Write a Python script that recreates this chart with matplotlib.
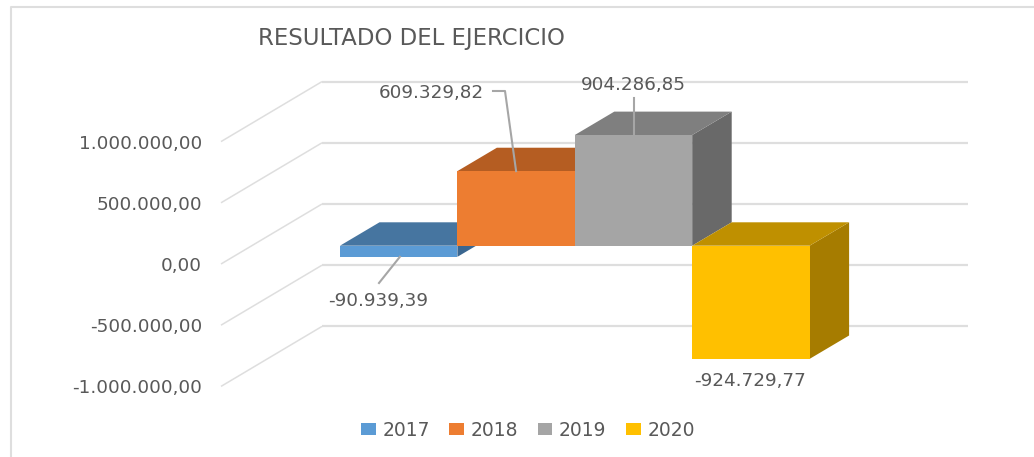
import matplotlib
matplotlib.use("Agg")
import matplotlib.pyplot as plt
from matplotlib.patches import Polygon, Patch

years = ["2017", "2018", "2019", "2020"]
values = [-90939.39, 609329.82, 904286.85, -924729.77]
value_labels = ["-90.939,39", "609.329,82", "904.286,85", "-924.729,77"]
front_colors = ["#5B9BD5", "#ED7D31", "#A5A5A5", "#FFC000"]
top_colors = ["#4675A0", "#B55D22", "#7F7F7F", "#BF9000"]
side_colors = ["#3A6690", "#A85520", "#696969", "#A67C00"]
axis_ticks = [1000000, 500000, 0, -500000, -1000000]
axis_labels = ["1.000.000,00", "500.000,00", "0,00", "-500.000,00", "-1.000.000,00"]
title = "RESULTADO DEL EJERCICIO"

W, H = 1034, 457
TXT = "#595959"
GRID = "#DEDEDE"
FS = 13.2

fig = plt.figure(figsize=(W / 100, H / 100), dpi=100, facecolor="white")
ax = fig.add_axes([0, 0, 1, 1])
ax.axis("off")

# pixel calibration: bar i spans i..i+1 on x, value 0 at the bars' front plane
PX_PER_CAT = 117.4
PX_PER_VAL = 122.4 / 1e6
X0, Y0 = 340.0, 245.7
ax.set_xlim((0 - X0) / PX_PER_CAT, (W - X0) / PX_PER_CAT)
ax.set_ylim((Y0 - H) / PX_PER_VAL, Y0 / PX_PER_VAL)


def px(x, y):
    return (x - X0) / PX_PER_CAT, (Y0 - y) / PX_PER_VAL


dx, dy = 39.5 / PX_PER_CAT, 23.4 / PX_PER_VAL  # bar depth
wall_x0 = px(221, 0)[0]
wall_x1 = px(322, 0)[0]
wall_x2 = px(968, 0)[0]
wall_front = px(0, 264.0)[1]
wall_back = px(0, 204.0)[1]
label_drop = 7.0 / PX_PER_VAL

for t, lab in zip(axis_ticks, axis_labels):
    ax.plot([wall_x0, wall_x1], [wall_front + t, wall_back + t], color=GRID, lw=1.1,
            solid_capstyle="butt", zorder=1)
    ax.plot([wall_x1, wall_x2], [wall_back + t, wall_back + t], color=GRID, lw=1.6,
            solid_capstyle="butt", zorder=1)
    ax.text(px(202, 0)[0], wall_front + t - label_drop, lab, ha="right", va="baseline",
            fontsize=FS, color=TXT, zorder=5)

for i, v in enumerate(values):
    z = 2 + i
    top = max(v, 0)
    low = min(v, 0)
    ax.add_patch(Polygon([(i + 1, low), (i + 1 + dx, low + dy), (i + 1 + dx, top + dy), (i + 1, top)],
                         closed=True, fc=side_colors[i], ec="none", zorder=z))
    ax.add_patch(Polygon([(i, top), (i + dx, top + dy), (i + 1 + dx, top + dy), (i + 1, top)],
                         closed=True, fc=top_colors[i], ec="none", zorder=z))
    ax.bar(i, v, width=1, align="edge", color=front_colors[i], linewidth=0, zorder=z + 0.5)

# leader lines and value labels
LEAD = "#A6A6A6"
ax.plot([0.51, px(379, 0)[0]], [values[0], px(0, 283)[1]], color=LEAD, lw=1.5, zorder=9)
ax.plot([1.5, px(505, 0)[0], px(493, 0)[0]], [values[1], px(0, 91)[1], px(0, 91)[1]], color=LEAD, lw=1.5, zorder=9)
ax.plot([2.5, 2.5], [values[2], px(0, 98)[1]], color=LEAD, lw=1.5, zorder=9)

ax.text(*px(378.5, 306), value_labels[0], ha="center", va="baseline", fontsize=FS, color=TXT, zorder=10)
ax.text(*px(431, 98.5), value_labels[1], ha="center", va="baseline", fontsize=FS, color=TXT, zorder=10)
ax.text(*px(633.5, 90), value_labels[2], ha="center", va="baseline", fontsize=FS, color=TXT, zorder=10)
ax.text(*px(750, 386.5), value_labels[3], ha="center", va="baseline", fontsize=FS, color=TXT, zorder=10)

ax.text(*px(258, 45), title, ha="left", va="baseline", fontsize=16.4, color=TXT, zorder=10)

# outer frame
xs, ys = zip(*[px(*p) for p in [(11, 457), (11, 7), (1034, 7)]])
ax.plot(xs, ys, color=GRID, lw=1.5, zorder=0)

handles = [Patch(fc=c, ec="none") for c in front_colors]
fig.legend(handles, years, ncols=4, frameon=False, loc="center",
           bbox_to_anchor=(528 / W, 1 - 430 / H), fontsize=13.5, labelcolor=TXT,
           handlelength=0.78, handleheight=0.62, handletextpad=0.35, columnspacing=1.05,
           borderpad=0, borderaxespad=0)

fig.savefig("out.png", dpi=100, facecolor="white")
